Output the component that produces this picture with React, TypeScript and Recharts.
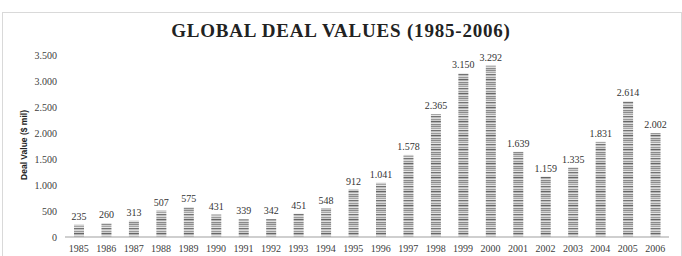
import { Bar, BarChart, LabelList, XAxis, YAxis } from "recharts";

const years = [
	"1985", "1986", "1987", "1988", "1989", "1990", "1991", "1992", "1993", "1994", "1995",
	"1996", "1997", "1998", "1999", "2000", "2001", "2002", "2003", "2004", "2005", "2006",
];
const dealValues = [
	235, 260, 313, 507, 575, 431, 339, 342, 451, 548, 912,
	1041, 1578, 2365, 3150, 3292, 1639, 1159, 1335, 1831, 2614, 2002,
];
const yTicks = [0, 500, 1000, 1500, 2000, 2500, 3000, 3500];

const data = years.map((year, i) => ({ year, value: dealValues[i] }));

// horizontal stripe shades used for the bar fill
const STRIPES = [
	"#8c8c8c", "#d0d0d0", "#a6a6a6", "#e6e6e6", "#737373", "#bfbfbf", "#d9d9d9",
	"#999999", "#cfcfcf", "#666666", "#b3b3b3", "#e0e0e0", "#8a8a8a", "#c4c4c4",
];

const SERIF = '"Liberation Serif", "Times New Roman", serif';

// 3500 -> "3.500"
const fmt = (v: number) => String(v).replace(/\B(?=(\d{3})+(?!\d))/g, ".");

export default function App() {
	return (
		<div
			style={{
				position: "absolute",
				left: 0,
				top: 0,
				width: 682,
				height: 256,
				background: "#fff",
				overflow: "hidden",
				fontFamily: SERIF,
			}}
		>
			<style>{`.deal-chart text { font-family: ${SERIF}; }`}</style>
			<div
				style={{
					position: "absolute",
					left: 2,
					top: 12,
					width: 678,
					height: 244,
					border: "1px solid #d9d9d9",
					borderBottom: "none",
				}}
			/>
			<div
				style={{
					position: "absolute",
					left: 0,
					top: 20,
					width: 682,
					textAlign: "center",
					fontFamily: SERIF,
					fontWeight: "bold",
					fontSize: 19,
					letterSpacing: 0.8,
					color: "#222",
					lineHeight: "22px",
				}}
			>
				GLOBAL DEAL VALUES (1985-2006)
			</div>
			<div
				style={{
					position: "absolute",
					left: 24,
					top: 145,
					transform: "translate(-50%, -50%) rotate(-90deg)",
					whiteSpace: "nowrap",
					fontFamily: '"Liberation Sans", Arial, sans-serif',
					fontWeight: "bold",
					fontSize: 8.5,
					color: "#222",
				}}
			>
				Deal Value ($ mil)
			</div>
			<BarChart
				className="deal-chart"
				width={682}
				height={256}
				data={data}
				margin={{ top: 55, right: 13, bottom: 0, left: 0 }}
				style={{ position: "absolute", left: 0, top: 0 }}
			>
				<defs>
					<pattern
						id="stripes"
						patternUnits="userSpaceOnUse"
						width={12}
						height={STRIPES.length}
					>
						{STRIPES.map((c, i) => (
							<rect key={i} x={0} y={i} width={12} height={1} fill={c} />
						))}
					</pattern>
				</defs>
				<XAxis
					dataKey="year"
					height={19}
					interval={0}
					tickLine={false}
					axisLine={{ stroke: "#bfbfbf", strokeWidth: 1.5 }}
					tick={{ fontSize: 10, fill: "#404040" }}
				/>
				<YAxis
					width={65}
					domain={[0, 3500]}
					ticks={yTicks}
					interval={0}
					tickFormatter={fmt}
					axisLine={false}
					tickLine={false}
					tick={{ fontSize: 10, fill: "#404040" }}
				/>
				<Bar dataKey="value" fill="url(#stripes)" barSize={10} isAnimationActive={false}>
					<LabelList
						dataKey="value"
						position="top"
						offset={5}
						formatter={(v: number) => fmt(v)}
						style={{ fontSize: 10, fill: "#333" }}
					/>
				</Bar>
			</BarChart>
		</div>
	);
}
